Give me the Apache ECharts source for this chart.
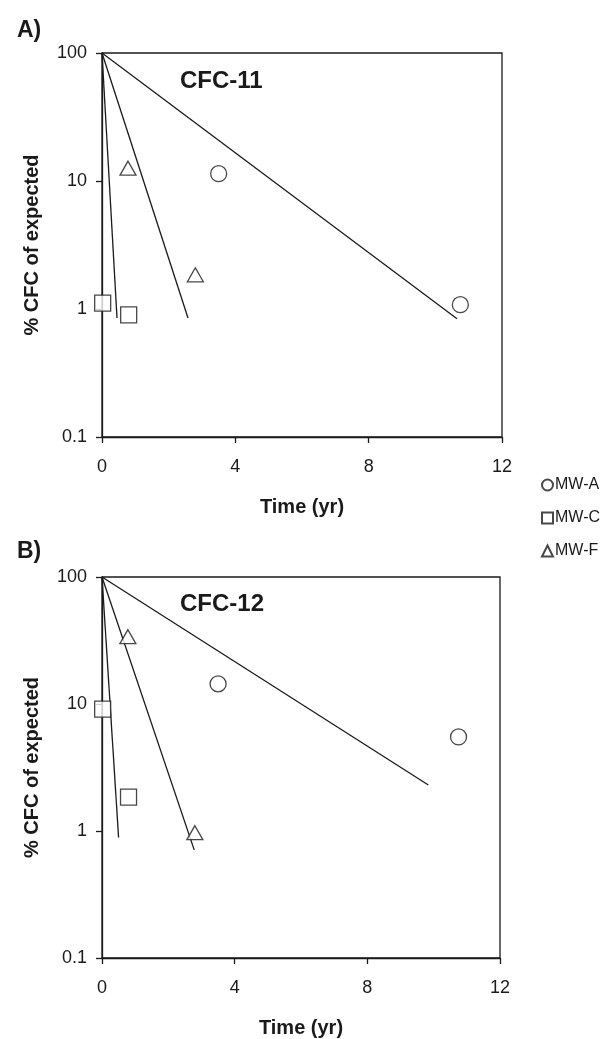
<!DOCTYPE html>
<html>
<head>
<meta charset="utf-8">
<script src="https://cdn.jsdelivr.net/npm/echarts@6/dist/echarts.min.js"></script>
<style>
  html, body { margin: 0; padding: 0; background: #fff; }
  #chart { width: 616px; height: 1039px; }
</style>
</head>
<body>
<div id="chart"></div>
<script>
// Sampling times (yr) for each monitoring well
const timeMWA = [3.5, 10.75];
const timeMWC = [0.02, 0.8];
const timeMWF = [0.78, 2.8];

// CFC-11, % of expected concentration
const cfc11MWA = [11.4, 1.08];
const cfc11MWC = [1.11, 0.9];
const cfc11MWF = [12.6, 1.85];

// CFC-12, % of expected concentration
const cfc12MWA = [14.4, 5.5];
const cfc12MWC = [9.1, 1.85];
const cfc12MWF = [33.9, 0.97];

// First-order decay lines: all start at (0, 100); end points per well [MW-A, MW-C, MW-F]
const fitStart = [0, 100];
const cfc11FitEndTime = [10.65, 0.45, 2.58];
const cfc11FitEndValue = [0.84, 0.85, 0.85];
const cfc12FitEndTime = [9.84, 0.5, 2.78];
const cfc12FitEndValue = [2.3, 0.89, 0.71];

// Axis ticks
const xTicks = [0, 4, 8, 12];
const yTickLabels = ['0.1', '1', '10', '100'];

const wells = ['MW-A', 'MW-C', 'MW-F'];
const wellSymbols = ['circle', 'rect', 'triangle'];
const wellSizes = [16, 16, [16, 14]];

const FONT = '"Liberation Sans", Arial, Helvetica, sans-serif';
const INK = '#1a1a1a';

function pairs(xs, ys) { return xs.map((x, i) => [x, ys[i]]); }

function xAxisFor(gridIndex) {
  return {
    type: 'value', gridIndex: gridIndex,
    min: xTicks[0], max: xTicks[xTicks.length - 1], interval: xTicks[1] - xTicks[0],
    name: 'Time (yr)', nameLocation: 'middle', nameGap: 60,
    nameTextStyle: { fontFamily: FONT, fontWeight: 'bold', fontSize: 20, color: INK },
    axisLine: { show: true, onZero: false, lineStyle: { color: INK, width: 1.3 } },
    axisTick: { show: true, inside: false, length: 6, lineStyle: { color: INK, width: 1.3 } },
    axisLabel: { margin: 21, fontFamily: FONT, fontSize: 18, color: INK },
    splitLine: { show: false }
  };
}

function yAxisFor(gridIndex) {
  return {
    type: 'log', logBase: 10, gridIndex: gridIndex,
    min: 0.1, max: 100,
    name: '% CFC of expected', nameLocation: 'middle', nameRotate: 90, nameGap: 60,
    nameTextStyle: { fontFamily: FONT, fontWeight: 'bold', fontSize: 20, color: INK },
    axisLine: { show: true, onZero: false, lineStyle: { color: INK, width: 1.3 } },
    axisTick: { show: true, inside: false, length: 6, lineStyle: { color: INK, width: 1.3 } },
    axisLabel: {
      margin: 15, fontFamily: FONT, fontSize: 18, color: INK,
      formatter: v => yTickLabels[Math.round(Math.log10(v)) + 1]
    },
    splitLine: { show: false }
  };
}

function scatterSeries(name, idx, gridIndex, xs, ys) {
  return {
    type: 'scatter', name: name,
    xAxisIndex: gridIndex, yAxisIndex: gridIndex,
    symbol: wellSymbols[idx], symbolSize: wellSizes[idx],
    itemStyle: { color: '#fff', borderColor: INK, borderWidth: 1.3 },
    data: pairs(xs, ys), z: 3
  };
}

function fitSeries(gridIndex, endT, endV) {
  return endT.map((t, i) => ({
    type: 'line', name: 'fit-' + gridIndex + '-' + i,
    xAxisIndex: gridIndex, yAxisIndex: gridIndex,
    showSymbol: false, symbol: 'none', silent: true,
    lineStyle: { color: INK, width: 1.3 },
    data: [fitStart, [t, endV[i]]], z: 2
  }));
}

const chart = echarts.init(document.getElementById('chart'), null, { renderer: 'canvas' });

chart.setOption({
  backgroundColor: '#fff',
  animation: false,
  title: [
    { text: 'A)', left: 12, top: 14, textStyle: { fontFamily: FONT, fontWeight: 'bold', fontSize: 23, color: INK } },
    { text: 'B)', left: 12, top: 535, textStyle: { fontFamily: FONT, fontWeight: 'bold', fontSize: 23, color: INK } },
    { text: 'CFC-11', left: 175, top: 64, textStyle: { fontFamily: FONT, fontWeight: 'bold', fontSize: 24, color: INK } },
    { text: 'CFC-12', left: 175, top: 587, textStyle: { fontFamily: FONT, fontWeight: 'bold', fontSize: 24, color: INK } }
  ],
  legend: {
    data: wells, orient: 'vertical', left: 536, top: 472,
    itemWidth: 11, itemHeight: 11, itemGap: 17,
    textStyle: { fontFamily: FONT, fontSize: 16, color: INK, padding: [0, 0, 0, -3] },
    selectedMode: false
  },
  grid: [
    { left: 102, top: 53, width: 400, height: 384, show: true, borderColor: INK, borderWidth: 1.3, backgroundColor: 'transparent' },
    { left: 102, top: 577, width: 398, height: 386, show: true, borderColor: INK, borderWidth: 1.3, backgroundColor: 'transparent' }
  ],
  xAxis: [xAxisFor(0), xAxisFor(1)],
  yAxis: [yAxisFor(0), yAxisFor(1)],
  series: [
    ...fitSeries(0, cfc11FitEndTime, cfc11FitEndValue),
    ...fitSeries(1, cfc12FitEndTime, cfc12FitEndValue),
    scatterSeries('MW-A', 0, 0, timeMWA, cfc11MWA),
    scatterSeries('MW-C', 1, 0, timeMWC, cfc11MWC),
    scatterSeries('MW-F', 2, 0, timeMWF, cfc11MWF),
    scatterSeries('MW-A', 0, 1, timeMWA, cfc12MWA),
    scatterSeries('MW-C', 1, 1, timeMWC, cfc12MWC),
    scatterSeries('MW-F', 2, 1, timeMWF, cfc12MWF)
  ]
});
</script>
</body>
</html>
